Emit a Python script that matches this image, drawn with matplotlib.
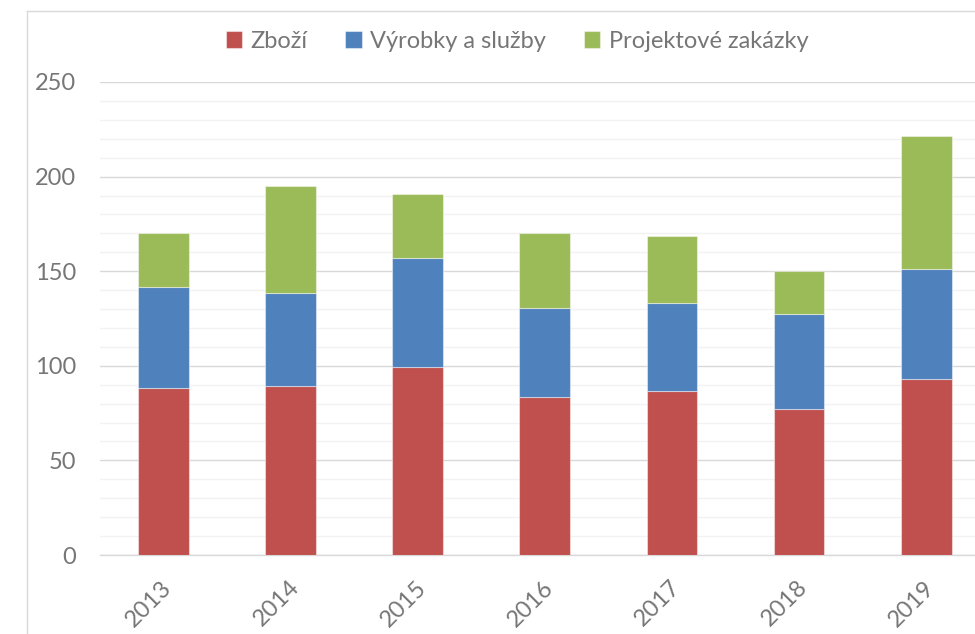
import matplotlib
matplotlib.use("Agg")
import matplotlib.pyplot as plt
from matplotlib.lines import Line2D
from matplotlib.ticker import MultipleLocator
from matplotlib.transforms import ScaledTranslation
import numpy as np

years = ["2013", "2014", "2015", "2016", "2017", "2018", "2019"]
zbozi = [88.1, 89.3, 99.2, 83.5, 86.8, 77.3, 92.9]
vyrobky = [53.7, 49.3, 57.9, 47.2, 46.2, 50.2, 58.1]
projekty = [28.4, 56.6, 33.7, 39.3, 35.8, 22.8, 70.3]
series_names = ["Zboží", "Výrobky a služby", "Projektové zakázky"]
colors = ["#C0504D", "#4F81BD", "#9BBB59"]

plt.rcParams['font.family'] = ['Lato', 'DejaVu Sans']
txt = "#767676"

W, H = 975, 634
fig = plt.figure(figsize=(W / 100, H / 100), dpi=100)
left_px, right_px, top_px, bot_px = 100, 989.7, 82, 555
ax = fig.add_axes([left_px / W, 1 - bot_px / H, (right_px - left_px) / W, (bot_px - top_px) / H])

x = np.arange(len(years))
bottom = np.zeros(len(years))
handles = []
for vals, name, c in zip([zbozi, vyrobky, projekty], series_names, colors):
    b = ax.bar(x, vals, 0.40, bottom=bottom, color=c, edgecolor=(1, 1, 1, 0.45),
               linewidth=0.8, label=name, zorder=3)
    bottom = bottom + np.array(vals)
    handles.append(b)

ax.set_xlim(-0.5, len(years) - 0.5)
ax.set_ylim(0, 250)
ax.yaxis.set_major_locator(MultipleLocator(50))
ax.yaxis.set_minor_locator(MultipleLocator(10))
ax.grid(axis='y', which='major', color='#d9d9d9', linewidth=1.0, zorder=0)
ax.grid(axis='y', which='minor', color='#f2f2f2', linewidth=1.0, zorder=0)
for s in ['top', 'right', 'left']:
    ax.spines[s].set_visible(False)
ax.spines['bottom'].set_color('#d9d9d9')
ax.spines['bottom'].set_linewidth(1.0)
ax.tick_params(axis='both', which='both', length=0, labelsize=17, colors=txt)
ax.tick_params(axis='y', pad=17)
ax.tick_params(axis='x', pad=21)
ax.set_xticks(x)
ax.set_xticklabels(years, rotation=45, ha='right', va='center', rotation_mode='anchor')
shift = ScaledTranslation(5 / 100, 0, fig.dpi_scale_trans)
for lab in ax.get_xticklabels():
    lab.set_transform(lab.get_transform() + shift)

leg = fig.legend(handles=handles, labels=series_names, loc='center',
                 bbox_to_anchor=(517 / W, 1 - 41 / H), ncol=3, frameon=False,
                 fontsize=17, handlelength=0.7, handleheight=0.7,
                 handletextpad=0.35, columnspacing=1.6)
for t in leg.get_texts():
    t.set_color(txt)

# chart area border (left and top)
fig.add_artist(Line2D([26.5 / W, 26.5 / W], [0, 1 - 11 / H], color='#d9d9d9', linewidth=1.0))
fig.add_artist(Line2D([26.5 / W, 1], [1 - 11 / H, 1 - 11 / H], color='#d9d9d9', linewidth=1.0))

fig.savefig("out.png", dpi=100)
